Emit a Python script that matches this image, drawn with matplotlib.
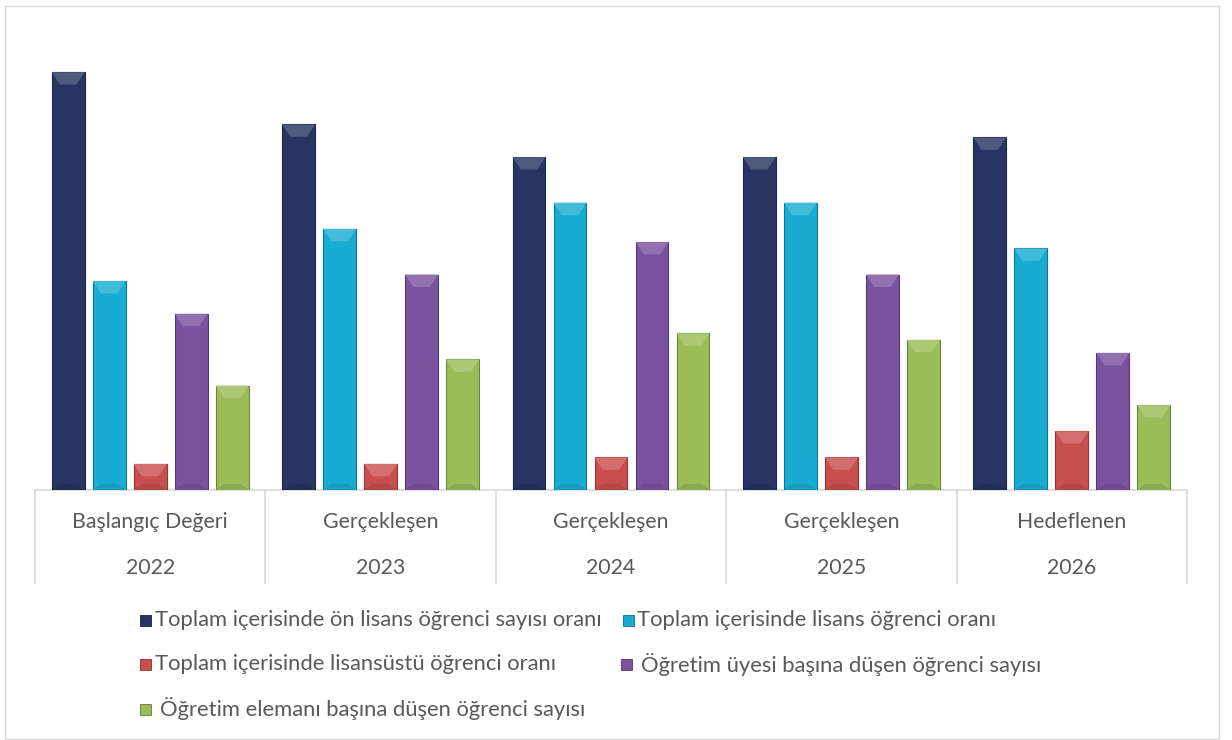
import numpy as np
import matplotlib.pyplot as plt
from matplotlib.patches import Polygon, Rectangle
from matplotlib.colors import to_rgb
import matplotlib.transforms as mtransforms

plt.rcParams['font.family'] = ['Lato', 'DejaVu Sans']

# data (no value axis in the source)
stages = ['Başlangıç Değeri', 'Gerçekleşen', 'Gerçekleşen', 'Gerçekleşen', 'Hedeflenen']
years = ['2022', '2023', '2024', '2025', '2026']
series_names = ['Toplam içerisinde ön lisans öğrenci sayısı oranı',
                'Toplam içerisinde lisans öğrenci oranı',
                'Toplam içerisinde lisansüstü öğrenci oranı',
                'Öğretim üyesi başına düşen öğrenci sayısı',
                'Öğretim elemanı başına düşen öğrenci sayısı']
on_lisans = [64, 56, 51, 51, 54]
lisans = [32, 40, 44, 44, 37]
lisansustu = [4, 4, 5, 5, 9]
ogretim_uyesi = [27, 33, 38, 33, 21]
ogretim_elemani = [16, 20, 24, 23, 13]
colors = ['#283462', '#19acd3', '#c94f4e', '#7b52a0', '#9bbd58']

values = [on_lisans, lisans, lisansustu, ogretim_uyesi, ogretim_elemani]

fig = plt.figure(figsize=(12.32, 7.4), dpi=100)
fig.patches.append(Rectangle((5 / 1232, 0.002), 1214 / 1232, 1 - 7 / 740,
                             transform=fig.transFigure, fill=False,
                             edgecolor='#d9d9d9', linewidth=1))
ax = fig.add_axes([35 / 1232, 1 - 490 / 740, 1152 / 1232, 457 / 740])

x = np.arange(len(years))
pitch = 0.178
width = 0.143
text_col = '#595959'


def shade(c, f):
    r, g, b = to_rgb(c)
    if f > 0:
        return (r + (1 - r) * f, g + (1 - g) * f, b + (1 - b) * f)
    return (r * (1 + f), g * (1 + f), b * (1 + f))


for i, (vals, col) in enumerate(zip(values, colors)):
    bars = ax.bar(x + (i - 2) * pitch, vals, width, color=col,
                  edgecolor=shade(col, -0.3), linewidth=0.8, zorder=3)
    for p in bars.patches:
        bx, bw, bh = p.get_x(), p.get_width(), p.get_height()
        d = min(1.9, bh / 2)
        ax.add_patch(Polygon([(bx, bh), (bx + bw, bh), (bx + bw * 0.75, bh - d),
                              (bx + bw * 0.25, bh - d)],
                             closed=True, color=shade(col, 0.18), lw=0, zorder=4))
        ax.add_patch(Polygon([(bx, 0), (bx + bw, 0), (bx + bw * 0.75, d * 0.5),
                              (bx + bw * 0.25, d * 0.5)],
                             closed=True, color=shade(col, -0.1), lw=0, zorder=4))

ax.set_xlim(-0.5, len(years) - 0.5)
ax.set_ylim(0, 70)
ax.set_yticks([])
ax.set_xticks([])
for s in ['top', 'left', 'right']:
    ax.spines[s].set_visible(False)
ax.spines['bottom'].set_color('#d9d9d9')
ax.spines['bottom'].set_linewidth(1.2)

# multi-level category axis
trans = mtransforms.blended_transform_factory(ax.transData, ax.transAxes)
for b in np.arange(len(years) + 1) - 0.5:
    ax.plot([b, b], [0, -0.204], transform=trans, color='#d9d9d9', lw=1.2,
            clip_on=False)
for xi, st, yr in zip(x, stages, years):
    ax.text(xi, -0.07, st, transform=trans, ha='center', va='center',
            fontsize=15.3, color=text_col)
    ax.text(xi, -0.171, yr, transform=trans, ha='center', va='center',
            fontsize=15.3, color=text_col)

# legend laid out like the source
legend_pos = [(145, 620, 155), (628, 620, 637), (145, 664, 155),
              (626, 664, 641), (145, 709, 160)]
for (mx, my, tx), name, col in zip(legend_pos, series_names, colors):
    fig.patches.append(Rectangle(((mx - 5.5) / 1232, 1 - (my + 5.5) / 740),
                                 11 / 1232, 11 / 740, transform=fig.transFigure,
                                 facecolor=col, edgecolor=shade(col, -0.35), lw=0.6))
    fig.text(tx / 1232, 1 - my / 740, name, ha='left', va='center',
             fontsize=15.8, color=text_col)

fig.savefig('out.png', dpi=100)
